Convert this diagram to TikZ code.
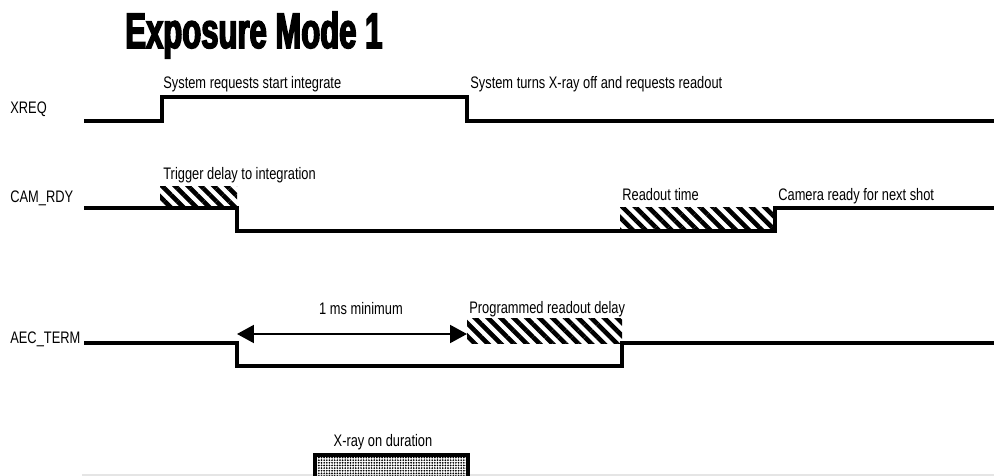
\documentclass[tikz,border=0pt]{standalone}
\usepackage{fontspec}
\setmainfont{Liberation Sans}[FakeStretch=0.77]
\newfontfamily\titlefont{Liberation Sans}[FakeStretch=0.62, FakeBold=3]
\usetikzlibrary{arrows.meta, patterns.meta}

\begin{document}
\begin{tikzpicture}[
    x=0.02cm, y=-0.02cm,
    sig/.style={line width=2.3pt},
    hatch/.style={pattern={Lines[angle=-45, distance=5.2pt, line width=2.6pt]}},
    xray/.style={pattern={Dots[distance=1.5pt, radius=0.55pt]}, pattern color=black},
    dur/.style={line width=1.1pt, {Triangle[length=9.6pt, width=10.2pt]}-{Triangle[length=9.6pt, width=10.2pt]}},
    lbl/.style={anchor=base west, inner sep=0pt, font=\fontsize{9.5}{11}\selectfont},
    signame/.style={lbl}
]
    \useasboundingbox (0,0) rectangle (994,476);
    \clip (0,0) rectangle (994,476);

    % Title
    \node (title) [anchor=base west, inner sep=0pt, font=\titlefont\bfseries\fontsize{28.5}{30}\selectfont] at (125,48) {Exposure Mode 1};

    % XREQ
    \node (xreq) [signame] at (10,114) {XREQ};
    \draw [sig] (84,121) -- (162,121) -- (162,97) -- (467,97) -- (467,121) -- (994,121);
    \node (xreq_on) [lbl] at (163,89) {System requests start integrate};
    \node (xreq_off) [lbl] at (470,89) {System turns X-ray off and requests readout};

    % CAM_RDY
    \node (camrdy) [signame] at (10,203) {CAM\_RDY};
    \path [hatch] (160,187) rectangle (237,208);
    \path [hatch] (620,208) rectangle (775,231);
    \draw [sig] (84,208) -- (237,208) -- (237,231) -- (775,231) -- (775,208) -- (994,208);
    \node (trig_delay) [lbl] at (163,180) {Trigger delay to integration};
    \node (readout) [lbl] at (622,201) {Readout time};
    \node (cam_ready) [lbl] at (778,201) {Camera ready for next shot};

    % AEC_TERM
    \node (aecterm) [signame] at (10,343) {AEC\_TERM};
    \path [hatch] (467,318) rectangle (622,343);
    \draw [sig] (84,343) -- (237,343) -- (237,366) -- (622,366) -- (622,343) -- (994,343);
    \coordinate (ms_l) at (237,334);
    \coordinate (ms_r) at (467,334);
    \draw [dur] (ms_l) -- (ms_r);
    \node (ms_min) [lbl, anchor=base] at (361,315) {1 ms minimum};
    \node (prog_delay) [lbl] at (469,314) {Programmed readout delay};

    % X-ray
    \draw [line width=1.5pt, black!10] (82,475) -- (994,475);
    \draw [sig, xray] (315,455) rectangle (468,495);
    \node (xray_on) [lbl, anchor=base] at (383,446) {X-ray on duration};
\end{tikzpicture}
\end{document}
